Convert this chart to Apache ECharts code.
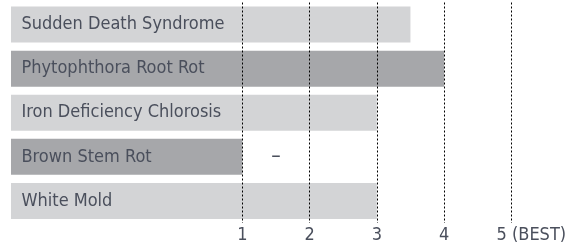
<!DOCTYPE html>
<html>
<head>
<meta charset="utf-8">
<script src="https://cdn.jsdelivr.net/npm/echarts@6/dist/echarts.min.js"></script>
<style>
  html, body { margin: 0; padding: 0; background: #fff; }
  #chart { width: 566px; height: 246px; }
</style>
</head>
<body>
<div id="chart"></div>
<script>
const diseases = ['Sudden Death Syndrome', 'Phytophthora Root Rot', 'Iron Deficiency Chlorosis', 'Brown Stem Rot', 'White Mold'];
const ratings = [3.5, 4, 3, 1, 3];
const notes = ['', '', '', '–', ''];
const ticks = [1, 2, 3, 4, 5];
const barColors = ['#d3d4d6', '#a6a7aa', '#d3d4d6', '#a6a7aa', '#d3d4d6'];

const font = '"Liberation Sans Narrow", "DejaVu Sans Condensed", sans-serif';
const textColor = '#4a4f5c';

function tickLabel(v) {
    if (v == 5) return '{pad| }{t|5 (BEST)}';
    return '{t|' + v + '}';
}

echarts.init(document.getElementById('chart')).setOption({
    animation: false,
    grid: { left: 11, right: 54.7, top: 2.5, bottom: 23, outerBoundsMode: 'none' },
    xAxis: {
        type: 'value',
        min: -2.44,
        max: 5,
        startValue: -2.44,
        axisLine: { show: false },
        axisTick: { show: false },
        splitLine: { show: false },
        axisLabel: {
            customValues: ticks,
            margin: 3,
            formatter: tickLabel,
            rich: {
                t: { fontFamily: font, fontSize: 18, color: textColor },
                pad: { width: 40, fontSize: 18 }
            }
        }
    },
    yAxis: {
        type: 'category',
        inverse: true,
        data: diseases,
        axisLine: { show: false },
        axisTick: { show: false },
        axisLabel: { show: false }
    },
    series: [{
        type: 'bar',
        barWidth: 36,
        data: ratings.map((v, i) => ({ value: v, itemStyle: { color: barColors[i] } })),
        label: {
            show: true,
            position: 'insideLeft',
            distance: 10.5,
            formatter: '{b}',
            fontFamily: font,
            fontSize: 18,
            color: textColor
        },
        markLine: {
            silent: true,
            symbol: 'none',
            label: { show: false },
            lineStyle: { color: '#000', type: [2, 2], width: 1, opacity: 1 },
            emphasis: { disabled: true },
            data: ticks.map(t => ({ xAxis: t }))
        }
    }, {
        type: 'bar',
        barWidth: 36,
        barGap: '-100%',
        data: ratings,
        itemStyle: { color: 'rgba(0,0,0,0)' },
        label: {
            show: true,
            position: 'right',
            distance: 29,
            formatter: p => notes[p.dataIndex],
            fontFamily: font,
            fontSize: 21,
            color: textColor
        }
    }]
});
</script>
</body>
</html>
